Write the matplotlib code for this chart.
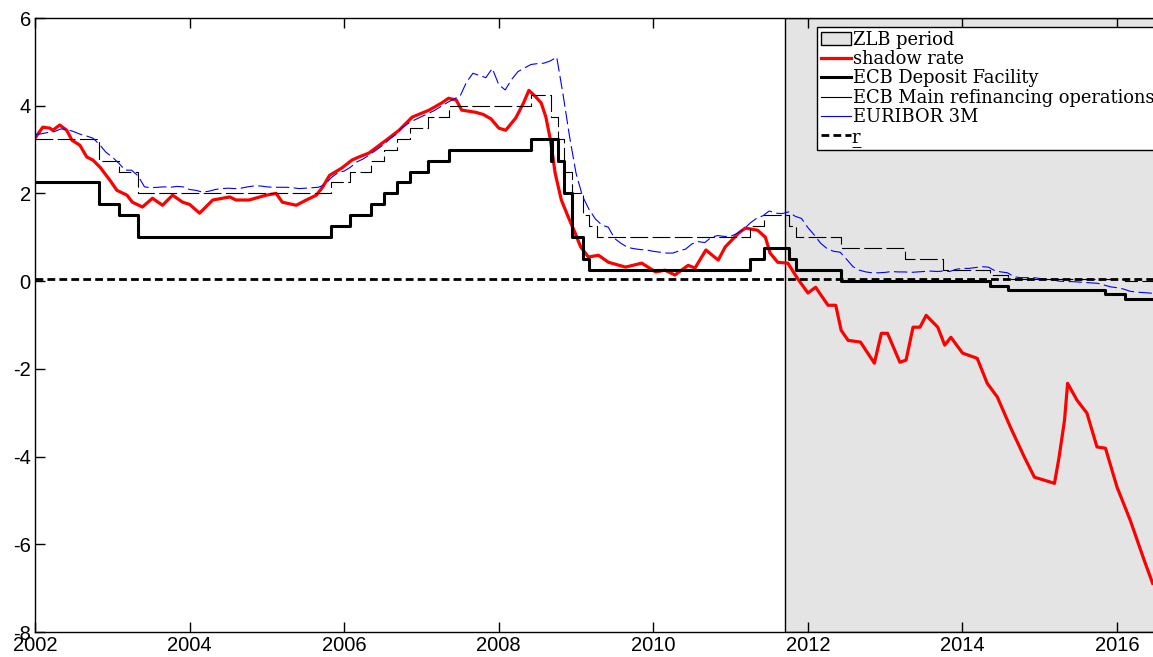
import numpy as np
import matplotlib
matplotlib.use("Agg")
import matplotlib.pyplot as plt
from matplotlib.patches import Patch
from matplotlib.lines import Line2D

plt.rcParams['axes.unicode_minus'] = False

# shadow rate
shadow_t = [2002.0, 2002.1, 2002.19, 2002.23, 2002.32, 2002.41, 2002.48, 2002.58, 2002.67, 2002.75,
            2002.84, 2002.97, 2003.06, 2003.19, 2003.26, 2003.39, 2003.52, 2003.65, 2003.78, 2003.91,
            2004.0, 2004.13, 2004.3, 2004.52, 2004.6, 2004.77, 2004.99, 2005.12, 2005.2, 2005.38,
            2005.51, 2005.64, 2005.72, 2005.81, 2005.97, 2006.1, 2006.19, 2006.32, 2006.54, 2006.71,
            2006.88, 2007.1, 2007.26, 2007.35, 2007.45, 2007.52, 2007.7, 2007.8, 2007.9, 2008.0,
            2008.09, 2008.22, 2008.32, 2008.39, 2008.48, 2008.55, 2008.61, 2008.67, 2008.73, 2008.81,
            2008.9, 2008.99, 2009.06, 2009.16, 2009.29, 2009.42, 2009.64, 2009.85, 2010.03, 2010.15,
            2010.28, 2010.45, 2010.54, 2010.68, 2010.84, 2010.93, 2011.1, 2011.19, 2011.35, 2011.45,
            2011.51, 2011.61, 2011.74, 2011.87, 2012.0, 2012.1, 2012.26, 2012.36, 2012.43, 2012.52,
            2012.68, 2012.86, 2012.95, 2013.03, 2013.19, 2013.27, 2013.36, 2013.45, 2013.53, 2013.68,
            2013.77, 2013.85, 2014.0, 2014.19, 2014.32, 2014.45, 2014.62, 2014.8, 2014.93, 2015.19,
            2015.25, 2015.32, 2015.36, 2015.48, 2015.61, 2015.74, 2015.85, 2016.0, 2016.17, 2016.35,
            2016.46]
shadow_rate = [3.26, 3.51, 3.49, 3.44, 3.56, 3.44, 3.21, 3.10, 2.83, 2.76,
               2.60, 2.30, 2.07, 1.96, 1.80, 1.69, 1.89, 1.73, 1.96, 1.80,
               1.75, 1.55, 1.85, 1.92, 1.85, 1.85, 1.96, 2.00, 1.80, 1.73,
               1.85, 1.96, 2.14, 2.41, 2.58, 2.76, 2.83, 2.92, 3.21, 3.44,
               3.74, 3.90, 4.06, 4.17, 4.13, 3.90, 3.85, 3.80, 3.70, 3.49,
               3.44, 3.72, 4.06, 4.35, 4.20, 4.06, 3.74, 3.21, 2.46, 1.85,
               1.46, 1.09, 0.78, 0.55, 0.59, 0.43, 0.32, 0.41, 0.21, 0.25,
               0.14, 0.36, 0.30, 0.71, 0.48, 0.78, 1.09, 1.21, 1.16, 1.00,
               0.64, 0.43, 0.41, 0.05, -0.27, -0.14, -0.55, -0.55, -1.12, -1.35,
               -1.39, -1.87, -1.19, -1.19, -1.85, -1.80, -1.05, -1.05, -0.78, -1.05,
               -1.46, -1.28, -1.64, -1.76, -2.33, -2.64, -3.33, -4.01, -4.47, -4.61,
               -4.01, -3.17, -2.33, -2.71, -3.01, -3.78, -3.81, -4.70, -5.45, -6.36,
               -6.89]

# policy rates (step changes, dates as placed on the chart)
dep_t = [2002.0, 2002.83, 2003.09, 2003.33, 2005.83, 2006.08, 2006.35, 2006.51, 2006.68, 2006.85,
         2007.09, 2007.35, 2008.42, 2008.67, 2008.69, 2008.77, 2008.84, 2008.95, 2009.09, 2009.17,
         2011.25, 2011.43, 2011.76, 2011.85, 2012.43, 2014.35, 2014.59, 2015.84, 2016.10]
dep_rate = [2.25, 1.75, 1.50, 1.00, 1.25, 1.50, 1.75, 2.00, 2.25, 2.50,
            2.75, 3.00, 3.25, 2.75, 3.25, 2.75, 2.00, 1.00, 0.50, 0.25,
            0.50, 0.75, 0.50, 0.25, 0.00, -0.10, -0.20, -0.30, -0.40]

mro_t = [2002.0, 2002.83, 2003.09, 2003.33, 2005.83, 2006.08, 2006.35, 2006.51, 2006.68, 2006.85,
         2007.09, 2007.35, 2008.42, 2008.67, 2008.77, 2008.84, 2008.95, 2009.09, 2009.17, 2009.27,
         2011.25, 2011.43, 2011.76, 2011.85, 2012.43, 2013.25, 2013.75, 2014.35, 2014.59, 2016.10]
mro_rate = [3.25, 2.75, 2.50, 2.00, 2.25, 2.50, 2.75, 3.00, 3.25, 3.50,
            3.75, 4.00, 4.25, 3.75, 3.25, 2.50, 2.00, 1.50, 1.25, 1.00,
            1.25, 1.50, 1.25, 1.00, 0.75, 0.50, 0.25, 0.15, 0.05, 0.00]

# EURIBOR 3M, monthly from Jan 2002
euribor = [3.34, 3.36, 3.39, 3.41, 3.47, 3.46, 3.41, 3.35, 3.31, 3.26, 3.12, 2.94,
           2.83, 2.69, 2.53, 2.53, 2.40, 2.15, 2.13, 2.14, 2.15, 2.14, 2.16, 2.15,
           2.09, 2.07, 2.03, 2.05, 2.09, 2.11, 2.12, 2.11, 2.12, 2.15, 2.17, 2.17,
           2.15, 2.14, 2.14, 2.14, 2.13, 2.11, 2.12, 2.13, 2.14, 2.20, 2.36, 2.47,
           2.51, 2.60, 2.72, 2.79, 2.89, 2.99, 3.10, 3.23, 3.34, 3.50, 3.60, 3.68,
           3.75, 3.82, 3.89, 3.98, 4.07, 4.15, 4.22, 4.54, 4.74, 4.69, 4.64, 4.85,
           4.48, 4.36, 4.60, 4.78, 4.86, 4.94, 4.96, 4.97, 5.02, 5.11, 4.24, 3.29,
           2.46, 1.94, 1.64, 1.42, 1.28, 1.23, 0.97, 0.86, 0.77, 0.74, 0.72, 0.71,
           0.68, 0.66, 0.64, 0.64, 0.69, 0.73, 0.85, 0.90, 0.88, 1.00, 1.04, 1.02,
           1.02, 1.09, 1.18, 1.32, 1.43, 1.49, 1.60, 1.55, 1.54, 1.58, 1.48, 1.43,
           1.22, 1.05, 0.86, 0.74, 0.68, 0.66, 0.50, 0.33, 0.25, 0.21, 0.19, 0.19,
           0.20, 0.22, 0.21, 0.21, 0.20, 0.21, 0.22, 0.23, 0.22, 0.23, 0.22, 0.27,
           0.29, 0.29, 0.31, 0.33, 0.32, 0.24, 0.21, 0.19, 0.10, 0.08, 0.08, 0.08,
           0.06, 0.05, 0.03, 0.00, -0.01, -0.01, -0.02, -0.03, -0.04, -0.05, -0.09, -0.13,
           -0.15, -0.18, -0.23, -0.25, -0.26, -0.27, -0.29]
euribor_t = 2002 + np.arange(len(euribor)) / 12.0

r_bar = 0.06
zlb_start = 2011.70
x_end = 2016.62

fig = plt.figure(figsize=(11.53, 6.57), dpi=100)
ax = fig.add_axes([35/1153, 25/657, 1130/1153, 614/657])

ax.axvspan(zlb_start, x_end + 1, facecolor='#e4e4e4', edgecolor='black', lw=1, zorder=0)
ax.plot(shadow_t, shadow_rate, color='red', lw=2.3, zorder=2)
ax.step(np.append(dep_t, x_end), np.append(dep_rate, dep_rate[-1]), where='post',
        color='black', lw=2.2, zorder=3)
ax.step(np.append(mro_t, x_end), np.append(mro_rate, mro_rate[-1]), where='post',
        color='black', lw=0.8, ls=(0, (16, 4)), zorder=4)
ax.plot(euribor_t, euribor, color='blue', lw=0.8, ls=(0, (12, 4)), zorder=5)
ax.axhline(r_bar, color='black', lw=2, ls=(0, (2.8, 1.5)), zorder=6)

ax.set_xlim(2002, x_end)
ax.set_ylim(-8, 6)
ax.set_xticks(np.arange(2002, 2017, 2))
ax.set_yticks(np.arange(-8, 7, 2))
ax.tick_params(direction='in', length=7, width=1, top=True, right=True,
               labelsize=14.5, pad=3)
for lab in ax.get_xticklabels() + ax.get_yticklabels():
    lab.set_family('Liberation Sans')
for s in ax.spines.values():
    s.set_linewidth(1)

handles = [Patch(facecolor='#e4e4e4', edgecolor='black', lw=1),
           Line2D([], [], color='red', lw=2.3),
           Line2D([], [], color='black', lw=2.2),
           Line2D([], [], color='black', lw=0.8),
           Line2D([], [], color='blue', lw=0.8),
           Line2D([], [], color='black', lw=2, ls=(0, (2.8, 1.5)))]
labels = ['ZLB period', 'shadow rate', 'ECB Deposit Facility',
          'ECB Main refinancing operations', 'EURIBOR 3M', 'r\u0332']
leg = ax.legend(handles, labels, loc='upper left',
                bbox_to_anchor=(817/1153, 1 - 27/657), bbox_transform=fig.transFigure,
                borderaxespad=0, borderpad=0.2, handlelength=1.7, handletextpad=0.1,
                labelspacing=0.08, fancybox=False, framealpha=1,
                prop={'family': 'DejaVu Serif', 'size': 12.9})
leg.get_frame().set_edgecolor('black')
leg.get_frame().set_linewidth(1)

fig.savefig('out.png', dpi=100)
